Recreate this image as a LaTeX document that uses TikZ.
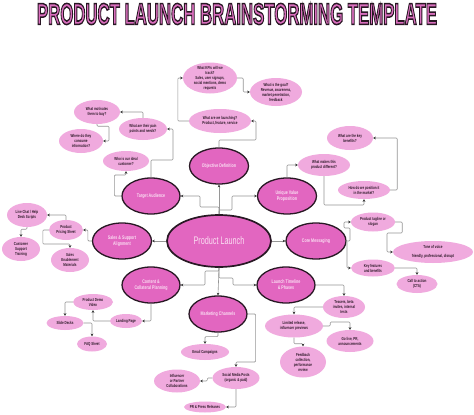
\documentclass[tikz,border=0pt]{standalone}
\usepackage{fontspec}
\setmainfont{Liberation Sans}
\newfontfamily\cond[FakeStretch=0.7]{Liberation Sans}
\newfontfamily\condb[FakeStretch=0.66]{Liberation Sans}
\usetikzlibrary{shapes.geometric,arrows.meta}
\definecolor{mainpink}{RGB}{226,102,192}
\definecolor{lightpink}{RGB}{240,170,222}
\definecolor{darkb}{RGB}{40,24,36}
\definecolor{textd}{RGB}{45,25,40}
\definecolor{linec}{RGB}{150,150,150}
\definecolor{arrc}{RGB}{50,50,50}
\definecolor{titlepink}{RGB}{218,110,190}
\definecolor{maintext}{RGB}{250,222,242}
\tikzset{
  mainE/.style={ellipse,fill=mainpink,draw=darkb,line width=1.3pt,inner sep=0pt},
  mainT/.style={font=\cond\bfseries\fontsize{5.2}{6}\selectfont,text=maintext,align=center,inner sep=0pt},
  lightE/.style={ellipse,fill=lightpink,draw=none,inner sep=0pt},
  lightT/.style={font=\cond\bfseries\fontsize{4.3}{5}\selectfont,text=textd,align=center,inner sep=0pt},
  conn/.style={draw=linec,line width=0.6pt,rounded corners=1pt,-{Stealth[length=2.6pt,width=2.6pt,color=arrc]}}
}
\newcommand\ME[5]{\node[mainE,minimum width=#3pt,minimum height=#4pt] (#1) at (#2) {};\node[mainT] (#1t) at (#1) {#5};}
\newcommand\LE[5]{\node[lightE,minimum width=#3pt,minimum height=#4pt] (#1) at (#2) {};\node[lightT] (#1t) at (#1) {#5};}
\begin{document}
\begin{tikzpicture}[x=1pt,y=-1pt]
\useasboundingbox[fill=white] (0,0) rectangle (474,415);
% title
\node[inner sep=0pt] (title) at (237,14) {\resizebox{400pt}{21pt}{\textcolor{titlepink}{\special{pdf:literal direct 2 Tr 0.16 0.09 0.14 RG 1.4 w}\fontsize{28}{30}\selectfont\bfseries PRODUCT LAUNCH BRAINSTORMING TEMPLATE\special{pdf:literal direct 0 Tr}}}};
% main nodes
\node[mainE,minimum width=104pt,minimum height=52pt,line width=1.7pt] (pl) at (219,241) {};
\node[mainT,font=\condb\fontsize{11}{12}\selectfont] (plt) at (pl) {Product Launch};
\ME{obj}{219,166}{59}{36}{Objective Definition}
\ME{ta}{151,196}{58}{36}{Target Audience}
\ME{uvp}{287,196}{59}{36}{Unique Value\\Proposition}
\ME{ss}{122,241}{59}{36}{Sales \& Support\\Alignment}
\ME{cm}{316,241}{60}{36}{Core Messaging}
\ME{cc}{151,285}{58}{36}{Content \&\\Collateral Planning}
\ME{lt}{286,285}{58}{36}{Launch Timeline\\\& Phases}
\ME{mc}{218,314}{58}{36}{Marketing Channels}
% light nodes
\LE{kpi}{210,78}{54}{31}{What KPIs will we\\track?\\Sales, user signups,\\social mentions, demo\\requests}
\LE{goal}{276,92}{52}{28}{What is the goal?\\Revenue, awareness,\\market penetration,\\feedback}
\LE{launch}{220,121}{62}{24}{What are we launching?\\Product, feature, service}
\LE{motiv}{97,112}{46}{24}{What motivates\\them to buy?}
\LE{consume}{81,141}{44}{24}{Where do they\\consume\\information?}
\LE{pain}{143,129}{48}{22}{What are their pain\\points and needs?}
\LE{ideal}{126,161}{46}{20}{Who is our ideal\\customer?}
\LE{ben}{350,138}{46}{24}{What are the key\\benefits?}
\LE{diff}{324,165}{52}{22}{What makes this\\product different?}
\LE{pos}{364,190}{52}{18}{How do we position it\\in the market?}
\LE{chat}{27,215}{40}{24}{Live Chat / Help\\Desk Scripts}
\LE{price}{66,230}{34}{20}{Product\\Pricing Sheet}
\LE{supp}{21,249}{38}{24}{Customer\\Support\\Training}
\LE{enab}{70,260}{38}{24}{Sales\\Enablement\\Materials}
\LE{tag}{373,222}{44}{19}{Product tagline or\\slogan}
\LE{tone}{433,252}{80}{22}{Tone of voice\\[4pt]friendly, professional, disrupt}
\LE{kf}{373,268}{44}{17}{Key features\\and benefits}
\LE{cta}{417,284}{41}{18}{Call to action\\(CTA)}
\LE{demo}{93,302}{40}{16}{Product Demo\\Video}
\LE{land}{126,321}{32}{14}{Landing Page}
\LE{slides}{65,323}{37}{14}{Slide Decks}
\LE{faq}{92,344}{30}{15}{FAQ Sheet}
\LE{email}{205,352}{48}{16}{Email Campaigns}
\LE{social}{236,378}{47}{22}{Social Media Posts\\(organic \& paid)}
\LE{infl}{177,381}{46}{23}{Influencer\\or Partner\\Collaborations}
\LE{pr}{205,407}{42}{11}{PR \& Press Releases}
\LE{teas}{344,307}{42}{22}{Teasers, beta\\invites, internal\\tests}
\LE{lim}{294,326}{58}{23}{Limited release,\\influencer previews}
\LE{golive}{350,341}{47}{22}{Go live, PR,\\announcements}
\LE{fb}{303,362}{46}{31}{Feedback\\collection,\\performance\\review}
% connectors from centre
\draw[conn] (pl.north) -- (obj.south);
\draw[conn] (pl.north) |- (200,207) |- (ta.east);
\draw[conn] (pl.north) |- (232,210) |- (uvp.west);
\draw[conn] (pl.west) -- (ss.east);
\draw[conn] (pl.east) -- (cm.west);
\draw[conn] (pl.south) -- (mc.north);
\draw[conn] (pl.south) |- (205,271) |- (cc.east);
\draw[conn] (pl.south) |- (233,278) |- (lt.west);
% objective
\draw[conn] (obj.north) |- (256,140) |- (launch.east);
\draw[conn] (launch.west) -- ++(-11,0) |- (kpi.west);
\draw[conn] (kpi.east) -- ++(6,0) |- (goal.west);
% target audience
\draw[conn] (ta.west) -- ++(-7,0) |- (ideal.south |- 0,175) -- (ideal.south);
\draw[conn] (ta.north) -- (ta.north |- 0,160) -| (173,140) |- (pain.east);
\draw[conn] (pain.north) |- (motiv.east);
\draw[conn] (motiv.south) -- ++(0,2) -| (109,135) |- (consume.east);
% uvp
\draw[conn] (uvp.north) |- (diff.west);
\draw[conn] (diff.south) -- (diff.south |- 0,205) -| (pos.south);
\draw[conn] (pos.east) -- ++(7,0) |- (ben.east);
% core messaging
\draw[conn] (cm.east) -- (350,241) -- (350,228) -- (344,228) |- (tag.west);
\draw[conn] (cm.east) -- (347,241) |- (kf.west);
\draw[conn] (tag.east) -- ++(7,0) -- ++(0,11) -- (387,233) |- (tone.west);
\draw[conn] (kf.east) -| (cta.north);
% launch timeline
\draw[conn] (lt.east) -| (teas.north);
\draw[conn] (teas.west) -| (lim.north);
\draw[conn] (lim.east) -- ++(7,0) |- (golive.north |- 0,322) -- (golive.north);
\draw[conn] (lim.south) -- ++(0,6) -| (fb.north);
% content
\draw[conn] (cc.south) |- (land.east);
\draw[conn] (land.west) -| (demo.south);
\draw[conn] (demo.west) -| (slides.north);
\draw[conn] (slides.east) -| (faq.north);
% marketing
\draw[conn] (mc.south) -- ++(0,4) -| (email.north);
\draw[conn] (mc.east) -- ++(8,0) |- (social.north |- 0,362) -- (social.north);
\draw[conn] (social.west) -- ++(-5,0) |- (infl.east);
\draw[conn] (social.south) |- (pr.east);
% sales & support
\draw[conn] (ss.west) -- ++(-4,0) |- (price.east);
\draw[conn] (price.north) |- (chat.east);
\draw[conn] (chat.south) -- ++(0,2) -| (supp.north);
\draw[conn] (price.west) -- ++(-6,0) |- (enab.north |- 0,244) -- (enab.north);
\end{tikzpicture}
\end{document}
